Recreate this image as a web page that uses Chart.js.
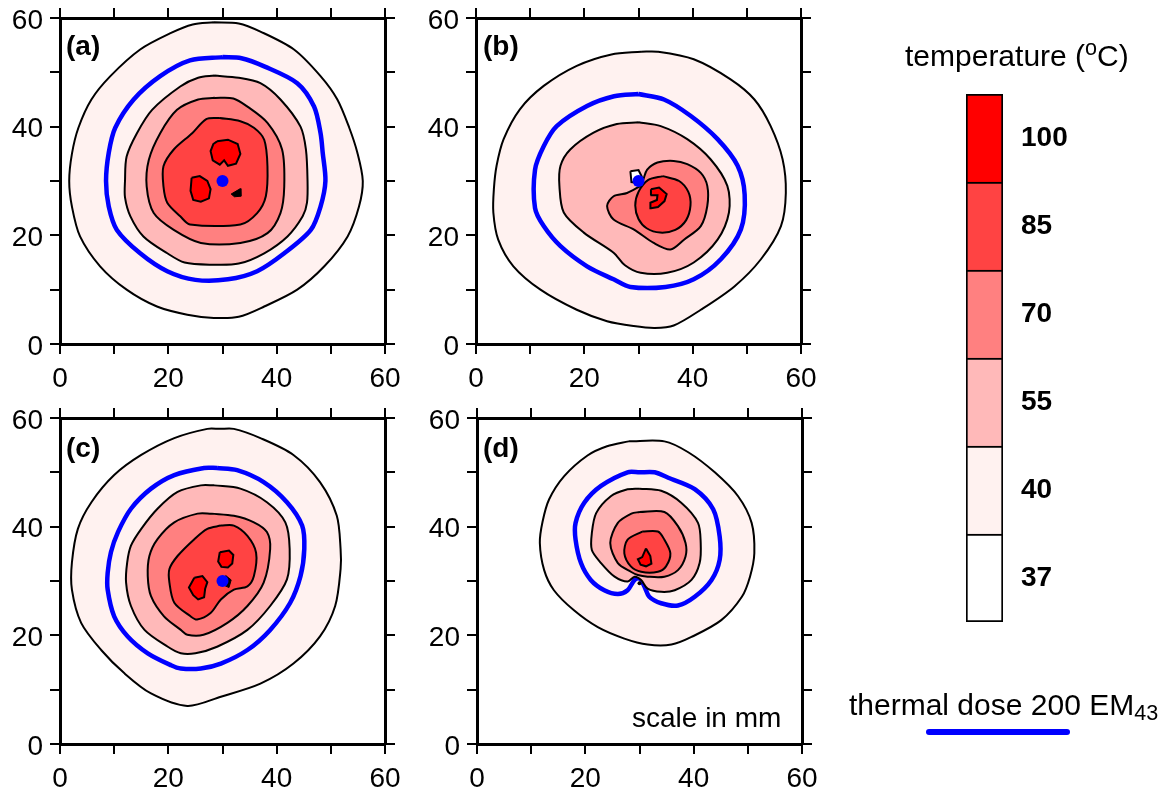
<!DOCTYPE html>
<html><head><meta charset="utf-8">
<script src="https://cdn.jsdelivr.net/npm/chart.js@4.4.0/dist/chart.umd.min.js"></script>
<style>
body{margin:0;width:1172px;height:792px;background:#fff;position:relative;overflow:hidden;font-family:'Liberation Sans',Arial,sans-serif}
canvas{position:absolute}
.t{position:absolute;white-space:nowrap;color:#000;line-height:1}
.pl{font-weight:bold;font-size:28px}
sup,sub{line-height:0;font-size:0.72em}
sup{vertical-align:0.5em}
sub{vertical-align:-0.25em}
</style></head><body>
<canvas id="pa" width="415" height="392" style="left:0;top:0"></canvas>
<canvas id="pb" width="415" height="392" style="left:416px;top:0"></canvas>
<canvas id="pc" width="415" height="392" style="left:0;top:400px"></canvas>
<canvas id="pd" width="415" height="392" style="left:417px;top:400px"></canvas>
<canvas id="cb" width="147" height="608" style="left:956px;top:54px"></canvas>
<div class="t pl" style="left:66px;top:32px">(a)</div>
<div class="t pl" style="left:483px;top:32px">(b)</div>
<div class="t pl" style="left:66px;top:434px">(c)</div>
<div class="t pl" style="left:483px;top:434px">(d)</div>
<div class="t" style="left:632px;top:704px;font-size:28px">scale in mm</div>
<div class="t" style="left:905px;top:41px;font-size:30px">temperature (<sup>o</sup>C)</div>
<div class="t" style="left:849px;top:690px;font-size:30px">thermal dose 200 EM<sub>43</sub></div>
<div style="position:absolute;left:926px;top:729px;width:144px;height:6px;border-radius:3px;background:#0000ff"></div>
<script>
// ---------- data (mm coordinates of contour lines) ----------
const axisMin = 0, axisMax = 60, tickStep = 10, labelStep = 20;
const levels = ['100', '85', '70', '55', '40', '37'];
const levelBand = [1, 1, 1, 1, 1, 1];
const sourcePoint = [[30, 30]];

// panel (a)
const a40 = [[28.4,59.2],[33,59],[37,57.5],[43.2,54.2],[48.1,49.3],[51.2,45],[53.4,39.8],[54.9,35.2],[55.9,30],[55.2,25.3],[53.1,19.8],[48.8,14.3],[43.8,10],[37.7,6.9],[33,5],[28.4,4.8],[23.5,5.4],[17.9,6.9],[12.3,10],[7.4,14.3],[3.7,19.8],[2.2,25.3],[1.7,30],[2.2,35],[3.4,39.8],[5.8,45],[9.3,49.3],[14.8,54.2],[20.4,57.2],[24.5,58.8],[28.4,59.2]];
const aDose = [[30,52.8],[33.5,52.6],[37.7,51.1],[43.8,48],[46.9,43.7],[48.1,38.8],[48.5,35.2],[49,30],[48.1,25.3],[46.3,21],[41.4,16.7],[36.4,13.4],[31,11.9],[25,11.8],[19.8,13.4],[14.8,16.7],[10.5,21],[9,25.3],[8.5,30],[9,35.2],[10.2,39.8],[13.6,45],[18.5,49.3],[24,52.2],[30,52.8]];
const a55 = [[28.5,49.4],[33,49],[37,48],[40.7,45],[44.4,40],[45.4,35.8],[45.7,30],[45.6,26],[44.8,23.5],[42,19.8],[37.7,16.7],[33,14.8],[28,14.6],[23,15],[19.8,16.7],[15.4,19.8],[13,23.5],[12,27],[12,30],[12.3,34.5],[14.2,38.8],[17,43.1],[22.2,47.4],[25.5,49],[28.5,49.4]];
const a70 = [[28.5,45.3],[32,45.2],[34.6,43.7],[38.3,40.7],[41,35.8],[41.4,29],[40.7,24.1],[38.3,20.4],[33.3,18.6],[26,18.6],[21,21],[17.3,24.1],[16,29],[16.4,33.9],[18.5,38.8],[21.6,43.1],[25.5,45],[28.5,45.3]];
const a85 = [[29.5,41.6],[33.3,41],[35.8,39.8],[37.7,37.6],[38.3,32.7],[38,27.2],[36.4,24.1],[33.3,22],[24,22],[22.2,23.5],[19.8,26],[19.1,29],[19.1,32.7],[21,35.8],[24.4,38.8],[27,41.4],[29.5,41.6]];
const a100s1 = [[29,37.3],[31,37.6],[32.8,36.8],[33.3,35],[32.5,33.2],[31,32.8],[30.3,33.8],[29.5,33],[28.2,33.8],[27.8,35.5],[28.3,36.8],[29,37.3]];
const a100s2 = [[24.3,30.6],[25.8,30.9],[27.2,30],[27.8,28.5],[27.5,26.8],[26,26.2],[24.6,26.5],[24.1,28.2],[24.3,30.6]];
const aMark = [[31.6,27.6],[33.3,28.6],[33.4,27.2],[32.2,27.1],[31.6,27.6]];

// panel (b)
const b40 = [[30.5,53.8],[33.5,53.8],[40.2,52.4],[47,48.7],[51.4,45],[54.4,40.1],[56.6,34],[57.2,27.8],[56.3,21.7],[52.6,15.6],[47.7,10.6],[41.5,6.3],[36.5,3.4],[33,2.95],[29.1,3.3],[24.2,4.2],[18.6,6.3],[11.9,10],[6.9,14.3],[4.1,19.2],[3.2,24.2],[3.3,28.5],[3.8,32.8],[5.1,37.7],[8.1,43.2],[12.5,47.5],[18.6,51.2],[25,53.3],[30.5,53.8]];
const bDose = [[30,46],[34.7,45],[39.6,42],[44.6,37.7],[48.3,32.8],[49.6,27.5],[48.9,21.1],[45.2,15.6],[40.2,11.9],[35,10.5],[28.5,10.5],[25.4,11.9],[20.5,14.3],[15.6,18],[12.5,21.7],[10.9,25],[10.9,32.1],[12.5,36.4],[14.9,40.1],[20.5,43.8],[25.5,45.6],[30,46]];
const b55 = [[30,40.8],[34.1,40.1],[39,37.7],[43.3,34],[46.4,29.1],[46.7,24.2],[44.6,19.2],[40.2,15],[35.3,13.1],[30.4,13.1],[27.5,14.5],[25.4,16.8],[19.9,20.5],[16.2,24.2],[15.4,29.1],[15.6,32.8],[17.4,35.8],[21.7,38.9],[26,40.5],[30,40.8]];
const b70 = [[30.4,29.1],[30.9,30.3],[31.6,32.1],[33.5,33.4],[36.5,33.7],[39,33.1],[41.5,31.5],[42.7,29.1],[42.7,25.4],[41.5,21.7],[38.4,19.2],[35.9,17.4],[32.8,18.6],[29.1,21.1],[25.4,22.9],[24.2,25.4],[25.4,27.2],[27.9,27.8],[30.4,29.1]];
const b85 = [[34.5,30.9],[37.5,30],[39.2,28],[39.6,25.5],[38.8,22.8],[36.8,21],[34,20.5],[31.5,21.3],[30,23],[29.4,25.5],[30,28],[31.8,30.2],[34.5,30.9]];
const b100 = [[32.3,28.5],[33.8,28.8],[35.2,27.6],[34.8,26.3],[33.6,25.2],[32.3,25],[32.2,26],[33.4,26.5],[33.5,27.4],[32.2,27.4],[32.3,28.5]];
const bGap = [[28.5,31.8],[30,32],[30.6,30.8],[30.2,29.6],[28.7,29.8],[28.5,31.8]];

// panel (c)
const c40 = [[29.5,58],[32.1,58],[37,56.3],[43.1,53.2],[48,48.2],[51.1,42],[51.8,35.9],[51.8,32.2],[50.8,25.4],[48,19.8],[43.1,14.8],[37,11.1],[29.7,8.7],[23.5,7],[16.8,9.3],[11.9,13],[7.6,17.3],[3.9,22.3],[2.2,28.4],[2.2,33.4],[3.3,39.6],[5.8,44.5],[10,49.5],[15,53.2],[21.1,56.3],[27.2,58],[29.5,58]];
const cDose = [[29,50.8],[32.7,50.4],[37.6,48.2],[41.9,44.5],[44.7,40.2],[45.1,35.9],[44.4,30.9],[42.5,26],[38.8,21],[34.6,17.3],[29.7,14.8],[26,13.9],[22.3,13.9],[20.5,14.5],[16.2,16.7],[12.5,19.8],[10,23.5],[8.8,28.4],[8.8,31.5],[9.4,35.3],[10.7,39],[13.1,43.3],[16.8,47],[21.1,49.5],[26.6,50.8],[29,50.8]];
const c55 = [[28.5,47.6],[33.3,47],[38.2,44.5],[41.6,40.8],[42.4,35.9],[41.9,30.3],[38.8,25.4],[34.6,21],[29,17.9],[25,16.7],[22.3,16.7],[19.9,17.9],[15.6,21],[13.1,25.4],[12.2,29.7],[12.4,33.4],[13.1,36.5],[15,39.6],[18,43.3],[21.7,46.4],[26,47.6],[28.5,47.6]];
const c70 = [[28,42.4],[32.1,42],[35.8,40.8],[38.2,39],[38.8,35.9],[37.6,29.7],[34.6,25.4],[30.9,22.3],[26.5,20.1],[23.5,20.1],[22.3,21],[19.2,23.5],[16.8,27.2],[16.2,30.9],[16.5,34.6],[18,37.7],[21.1,40.8],[25.4,42.4],[28,42.4]];
const c85 = [[29.7,40.2],[32.1,40.2],[34.6,38.3],[36.2,35.2],[35.8,30.9],[34.6,29],[32.1,28.4],[29.7,26.6],[27.8,24.1],[25.3,22.9],[24.1,23.5],[21.1,26],[20.2,29.7],[20.2,32.2],[21.7,34.6],[24.8,37.7],[27.2,39.6],[29.7,40.2]];
const c100s1 = [[29.5,35.3],[31.2,35.6],[32,34.8],[31.8,33.2],[31,32.5],[29.8,32.6],[29.2,33.6],[29.5,35.3]];
const c100s2 = [[24.8,30.6],[26.3,30.9],[27.2,29.8],[26.8,28.6],[26.6,27],[25.5,26.6],[24.6,27.4],[23.8,28.8],[24.8,30.6]];
const cMark = [[30.6,31],[31.6,30.2],[31.2,28.8],[30.3,29.2],[30.6,31]];

// panel (d)
const d40 = [[28,55.7],[34.6,55.7],[39,53.7],[43.9,50],[48.2,45.6],[50.7,40.7],[51.2,35.1],[50.4,30.8],[48.9,27.1],[45.1,22.8],[39.6,19.7],[35.9,18.3],[31.5,18.3],[27.2,19.4],[22.3,21.5],[17.9,24.6],[14.2,28.3],[12.4,32],[11.6,37],[12.1,40.9],[13.3,45],[16.1,49.3],[20.4,53.1],[24,54.8],[28,55.7]];
const dDose = [[30,50],[32.8,50],[35.3,49],[40.2,46.9],[43.6,43.2],[44.8,38.2],[44.8,33.9],[43.3,30.2],[40.2,27.1],[37.1,25.5],[34,25.9],[31.8,27.1],[30.9,29],[30,30.5],[29.1,30.2],[27.8,28.3],[26,27.6],[23.5,28.3],[21,30.2],[19.2,33.3],[18.2,37.6],[18.2,40.7],[19.8,44.4],[22.9,47.5],[27.8,50],[30,50]];
const d55 = [[30,47],[34,46.6],[37.7,44.4],[40.8,40.7],[41.3,37],[41.1,33.3],[39.6,30.2],[36.5,28.3],[34,28],[31.5,28.6],[30.3,30.2],[29.1,30.8],[27.8,29.9],[25.4,30.8],[22.9,33.3],[21.2,35.7],[21.2,38.8],[22,42.5],[24.7,45.6],[27.5,46.8],[30,47]];
const d70 = [[30,42.7],[34.6,42.7],[37.1,40.1],[38.5,37],[38.5,34.5],[37.1,32],[34.6,30.8],[31.5,30.8],[29.7,31.1],[28.4,31.7],[26,33.3],[24.6,37],[26,40.7],[28.5,42.4],[30,42.7]];
const d85 = [[30.5,39.1],[33.4,39.1],[34.6,37.6],[35.7,35.1],[34.9,32.7],[33.4,31.7],[30.3,31.7],[28.4,32.7],[27.2,35.1],[27.8,37.6],[30.5,39.1]];
const d100 = [[31.2,36],[32,34.6],[32.2,33.2],[31.2,32.7],[30.2,33],[29.7,34],[30.5,34.4],[31.2,36]];
const dMark = [[30,29.6]];

// ---------- styles ----------
const COL = {t100:'#ff0000', t85:'#ff4343', t70:'#ff8080', t55:'#ffb9b9', t40:'#fff2f0', t37:'#ffffff'};
const DOSE_BLUE = '#0000ff';

function contour(data, bg, order, opts) {
  return Object.assign({data, backgroundColor: bg || 'rgba(0,0,0,0)', fill: bg ? 'shape' : false,
    borderColor:'#000', borderWidth:2, tension:0.3, order, pointRadius:0, pointHoverRadius:0}, opts || {});
}
function dose(data) {
  return {data, fill:false, borderColor:DOSE_BLUE, borderWidth:4.5, tension:0.3, order:9, pointRadius:0, pointHoverRadius:0};
}
function marker(data, color, r) {
  return {data, showLine:false, pointRadius:r, pointHoverRadius:r, pointBackgroundColor:color, pointBorderColor:color, pointBorderWidth:0, order:0};
}

function fix(prop, val) {
  return s => { s[prop] = val; s.paddingTop = 0; s.paddingBottom = 0; s.paddingLeft = 0; s.paddingRight = 0; };
}
function axes() {
  const font = {family:'Liberation Sans', size:28};
  const grid = {drawOnChartArea:false, drawTicks:true, tickLength:10, color:'#000', lineWidth:2};
  const border = {display:true, color:'#000', width:3};
  const lab = v => (v % labelStep === 0 ? String(v) : '');
  const base = {type:'linear', min:axisMin, max:axisMax, grid, border};
  return {
    x: Object.assign({}, base, {position:'bottom', ticks:{stepSize:tickStep, autoSkip:false, maxRotation:0, callback:lab, font, color:'#000', padding:8}, afterFit:fix('height',48)}),
    x2: Object.assign({}, base, {position:'top', ticks:{stepSize:tickStep, display:false}, afterFit:fix('height',18)}),
    y: Object.assign({}, base, {position:'left', ticks:{stepSize:tickStep, autoSkip:false, callback:lab, font, color:'#000', padding:7, labelOffset:3}, afterFit:fix('width',60)}),
    y2: Object.assign({}, base, {position:'right', ticks:{stepSize:tickStep, display:false}, afterFit:fix('width',30)})
  };
}
function panel(id, datasets) {
  new Chart(document.getElementById(id), {
    type:'line',
    data:{datasets},
    options:{responsive:false, animation:false, events:[], layout:{padding:0},
      plugins:{legend:{display:false}, tooltip:{enabled:false}},
      scales:axes()}
  });
}

panel('pa', [
  contour(a40, COL.t40, 10), dose(aDose), contour(a55, COL.t55, 8), contour(a70, COL.t70, 7), contour(a85, COL.t85, 6),
  contour(a100s1, COL.t100, 5, {tension:0}), contour(a100s2, COL.t100, 5, {tension:0}), contour(aMark, '#000', 4, {tension:0, borderWidth:1}),
  marker(sourcePoint, DOSE_BLUE, 6)
]);
panel('pb', [
  contour(b40, COL.t40, 10), dose(bDose), contour(b55, COL.t55, 8), contour(b70, COL.t70, 7), contour(b85, COL.t85, 6),
  contour(b100, COL.t100, 5, {tension:0}), contour(bGap, COL.t37, 4, {tension:0}),
  marker(sourcePoint, DOSE_BLUE, 6)
]);
panel('pc', [
  contour(c40, COL.t40, 10), dose(cDose), contour(c55, COL.t55, 8), contour(c70, COL.t70, 7), contour(c85, COL.t85, 6),
  contour(c100s1, COL.t100, 5, {tension:0}), contour(c100s2, COL.t100, 5, {tension:0}), contour(cMark, '#000', 4, {tension:0, borderWidth:1}),
  marker(sourcePoint, DOSE_BLUE, 6)
]);
panel('pd', [
  contour(d40, COL.t40, 10), dose(dDose), contour(d55, COL.t55, 8), contour(d70, COL.t70, 7), contour(d85, COL.t85, 6),
  contour(d100, COL.t100, 5, {tension:0}), marker(dMark, '#000', 2)
]);

// ---------- colour bar ----------
const bandColors = [COL.t37, COL.t40, COL.t55, COL.t70, COL.t85, COL.t100];
const bottomUp = levels.slice().reverse();
new Chart(document.getElementById('cb'), {
  type:'bar',
  data:{labels:['T'], datasets: bottomUp.map((lv, i) => ({label:lv, data:[levelBand[i]], backgroundColor:bandColors[i],
    borderColor:'#000', borderWidth:2, borderSkipped: i === 0 ? false : 'bottom', barPercentage:1, categoryPercentage:1}))},
  options:{responsive:false, animation:false, events:[],
    layout:{padding:{left:10, right:0, top:40, bottom:40}},
    plugins:{legend:{display:false}, tooltip:{enabled:false}},
    scales:{
      x:{display:false, stacked:true},
      y:{display:false, stacked:true, min:0, max:levelBand.length},
      y2:{type:'category', labels:levels, position:'right', offset:true,
        grid:{display:false, drawTicks:false}, border:{display:false},
        ticks:{padding:18, color:'#000', font:{family:'Liberation Sans', size:28, weight:'bold'}},
        afterFit:fix('width',100)}
    }}
});
</script>
</body></html>
